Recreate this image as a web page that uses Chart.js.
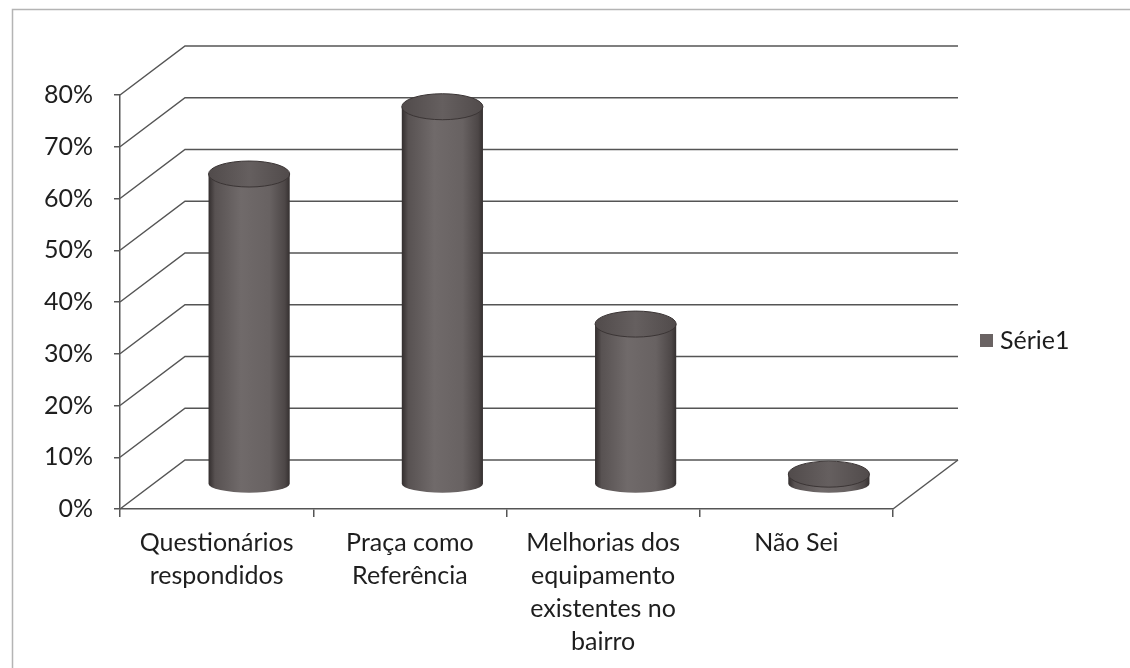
<!DOCTYPE html>
<html>
<head>
<meta charset="utf-8">
<script src="https://cdn.jsdelivr.net/npm/chart.js@4.4.1/dist/chart.umd.min.js"></script>
<style>
  html, body { margin: 0; padding: 0; background: #fff; overflow: hidden; }
  #wrap { position: relative; width: 1130px; height: 668px; }
</style>
</head>
<body>
<div id="wrap"><canvas id="chart" width="1130" height="668"></canvas></div>
<script>
// Chart data
const categories = [
    ['Questionários', 'respondidos'],
    ['Praça como', 'Referência'],
    ['Melhorias dos', 'equipamento', 'existentes no', 'bairro'],
    'Não Sei'
];
const seriesName = 'Série1';
const seriesValues = [60, 73, 31, 2];
const yMin = 0;
const yMax = 80;
const yStep = 10;

// 3D look (depth of the floor / walls)
const DEPTH_X = 65;
const DEPTH_Y = -49;
const RY_TOP = 13;
const RY_BOTTOM = 9;

const textColor = '#1e1e1e';
const lineColor = '#555555';
const barColor = '#6a6363';
const labelFont = { family: 'Lato, "Open Sans", sans-serif', size: 25, lineHeight: 1.32 };

// Draws the walls, floor and the cylinders from the bar elements
const cylinders3d = {
    id: 'cylinders3d',
    beforeDraw(chart) {
        const ctx = chart.ctx;
        ctx.save();
        ctx.fillStyle = '#fff';
        ctx.fillRect(0, 0, chart.width, chart.height);
        ctx.strokeStyle = '#b4b4b4';
        ctx.lineWidth = 1.5;
        ctx.strokeRect(12.5, 9.5, chart.width + 50, chart.height + 50);
        ctx.restore();
    },
    beforeDatasetsDraw(chart) {
        const ctx = chart.ctx;
        const { left, right } = chart.chartArea;
        const yScale = chart.scales.y;

        ctx.save();
        ctx.strokeStyle = lineColor;
        ctx.lineWidth = 1.5;

        // side wall diagonals + back wall gridlines
        yScale.ticks.forEach(t => {
            const py = yScale.getPixelForValue(t.value);
            ctx.beginPath();
            ctx.moveTo(left, py);
            ctx.lineTo(left + DEPTH_X, py + DEPTH_Y);
            ctx.lineTo(right + DEPTH_X, py + DEPTH_Y);
            ctx.stroke();
        });

        // right edge of the floor
        const y0 = yScale.getPixelForValue(0);
        ctx.beginPath();
        ctx.moveTo(right, y0);
        ctx.lineTo(right + DEPTH_X, y0 + DEPTH_Y);
        ctx.stroke();

        // cylinders
        const meta = chart.getDatasetMeta(0);
        meta.data.forEach(bar => {
            const cx = bar.x + DEPTH_X / 2;
            const rx = bar.width / 2;
            const top = bar.y + DEPTH_Y / 2;
            const base = bar.base + DEPTH_Y / 2;

            const grad = ctx.createLinearGradient(cx - rx, 0, cx + rx, 0);
            grad.addColorStop(0, '#332e2e');
            grad.addColorStop(0.08, '#585252');
            grad.addColorStop(0.4, '#706a6a');
            grad.addColorStop(0.75, '#686262');
            grad.addColorStop(0.94, '#4d4747');
            grad.addColorStop(1, '#353030');

            ctx.beginPath();
            ctx.moveTo(cx - rx, top);
            ctx.lineTo(cx - rx, base);
            ctx.ellipse(cx, base, rx, RY_BOTTOM, 0, Math.PI, 0, true);
            ctx.lineTo(cx + rx, top);
            ctx.closePath();
            ctx.fillStyle = grad;
            ctx.fill();

            // top cap
            const capGrad = ctx.createLinearGradient(cx - rx, 0, cx + rx, 0);
            capGrad.addColorStop(0, '#514b4b');
            capGrad.addColorStop(0.5, '#655f5f');
            capGrad.addColorStop(1, '#514b4b');
            ctx.beginPath();
            ctx.ellipse(cx, top, rx, RY_TOP, 0, 0, Math.PI * 2);
            ctx.fillStyle = capGrad;
            ctx.fill();
            ctx.strokeStyle = '#3b3535';
            ctx.lineWidth = 1;
            ctx.stroke();
        });

        ctx.restore();
        return false;
    },
    afterDraw(chart) {
        // legend on the right
        const ctx = chart.ctx;
        const { right } = chart.chartArea;
        const lx = right + DEPTH_X + 22;
        const ly = 341;
        ctx.save();
        ctx.fillStyle = chart.data.datasets[0].backgroundColor;
        ctx.fillRect(lx, ly - 7, 13, 13);
        ctx.fillStyle = textColor;
        ctx.font = labelFont.size + 'px ' + labelFont.family;
        ctx.textBaseline = 'middle';
        ctx.textAlign = 'left';
        ctx.fillText(chart.data.datasets[0].label, lx + 20, ly);
        ctx.restore();
    }
};

const ctx = document.getElementById('chart').getContext('2d');
new Chart(ctx, {
    type: 'bar',
    data: {
        labels: categories,
        datasets: [{
            label: seriesName,
            data: seriesValues,
            backgroundColor: barColor,
            barPercentage: 0.525,
            categoryPercentage: 0.8
        }]
    },
    options: {
        responsive: false,
        animation: false,
        devicePixelRatio: 1,
        layout: { padding: { top: 95, right: 237, bottom: 0, left: 0 } },
        plugins: {
            legend: { display: false },
            tooltip: { enabled: false }
        },
        scales: {
            x: {
                offset: true,
                grid: { offset: true, drawOnChartArea: false, tickLength: 8, color: lineColor, lineWidth: 1.5 },
                border: { color: lineColor, width: 1.5 },
                ticks: { font: labelFont, color: textColor, padding: 9, maxRotation: 0, autoSkip: false },
                afterFit: s => { s.height = 668 - 509; }
            },
            y: {
                min: yMin,
                max: yMax,
                ticks: {
                    stepSize: yStep,
                    font: { family: labelFont.family, size: labelFont.size },
                    color: textColor,
                    padding: 21,
                    callback: v => v + '%'
                },
                grid: { drawOnChartArea: false, tickLength: 6, color: lineColor, lineWidth: 1.5 },
                border: { color: lineColor, width: 1.5 },
                afterFit: s => { s.width = 120; }
            }
        }
    },
    plugins: [cylinders3d]
});
</script>
</body>
</html>
